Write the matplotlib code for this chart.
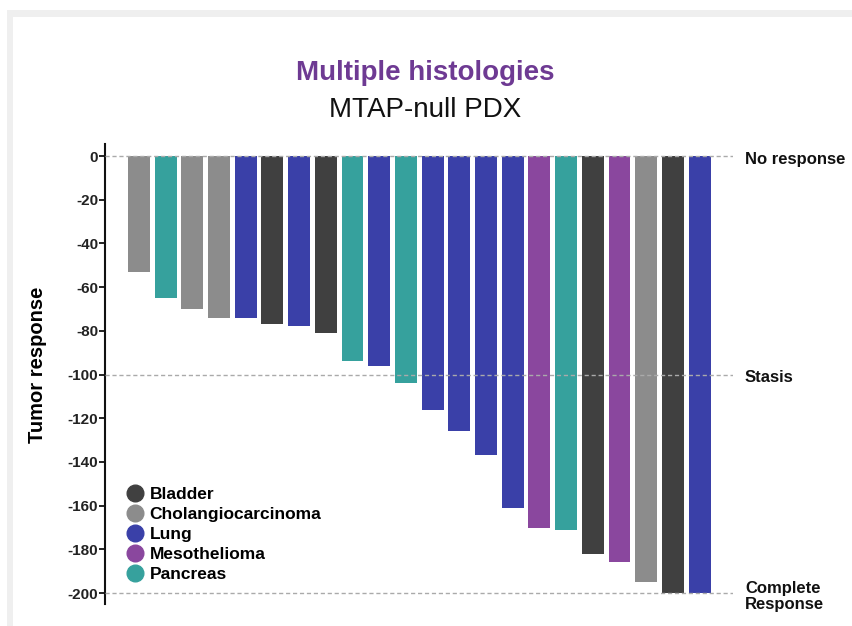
import matplotlib
matplotlib.use("Agg")
import matplotlib.pyplot as plt
from matplotlib.lines import Line2D
from matplotlib.patches import Rectangle
import matplotlib.transforms as mtransforms

plt.rcParams['font.family'] = ['Liberation Sans', 'DejaVu Sans']

# tumor response per PDX model, left to right
histology = ['Cholangiocarcinoma', 'Pancreas', 'Cholangiocarcinoma', 'Cholangiocarcinoma',
             'Lung', 'Bladder', 'Lung', 'Bladder', 'Pancreas', 'Lung', 'Pancreas',
             'Lung', 'Lung', 'Lung', 'Lung', 'Mesothelioma', 'Pancreas', 'Bladder',
             'Mesothelioma', 'Cholangiocarcinoma', 'Bladder', 'Lung']
response = [-53, -65, -70, -74, -74, -77, -78, -81, -94, -96, -104,
            -116, -126, -137, -161, -170, -171, -182, -186, -195, -200, -200]

legend_names = ['Bladder', 'Cholangiocarcinoma', 'Lung', 'Mesothelioma', 'Pancreas']
colors = {'Bladder': '#404040', 'Cholangiocarcinoma': '#8c8c8c', 'Lung': '#3a40a8',
          'Mesothelioma': '#8a479e', 'Pancreas': '#36a19d'}

ref_levels = [0, -100, -200]
ref_labels = ['No response', 'Stasis', 'Complete\nResponse']
yticks = list(range(0, -201, -20))

W, H = 852, 626
fig = plt.figure(figsize=(W / 100, H / 100), dpi=100)

# light frame around the card
fig.patches.append(Rectangle((7 / W, 0), 1, (H - 10) / H, transform=fig.transFigure,
                             facecolor='#efefef', edgecolor='none', zorder=-2))
fig.patches.append(Rectangle((13 / W, 0), 1, (H - 17) / H, transform=fig.transFigure,
                             facecolor='white', edgecolor='none', zorder=-1))

ax = fig.add_axes([105 / W, (H - 604) / H, (733 - 105) / W, (604 - 144) / H])
ax.patch.set_alpha(0)

x = list(range(len(response)))
ax.bar(x, response, width=0.82, color=[colors[h] for h in histology], zorder=2)

for lv in ref_levels:
    ax.axhline(lv, color='#aaaaaa', lw=1.0, ls=(0, (3, 2)), zorder=3)

trans = mtransforms.blended_transform_factory(ax.transAxes, ax.transData)
for lv, lab in zip(ref_levels, ref_labels):
    ax.text(1.019, lv - 1.5, lab, transform=trans, ha='left', va='center',
            fontsize=12, fontweight='bold', color='#111111', linespacing=1.1)

ax.set_xlim(-1.27, 22.25)
ax.set_ylim(-205, 5.5)
ax.set_yticks(yticks)
ax.set_yticklabels([str(t) for t in yticks], fontsize=11, fontweight='bold', color='#222222')
ax.set_xticks([])
for s in ['top', 'right', 'bottom']:
    ax.spines[s].set_visible(False)
ax.spines['left'].set_linewidth(1.5)
ax.spines['left'].set_color('#111111')
ax.tick_params(axis='y', length=4, width=1.3, pad=1, color='#111111')

ax.set_ylabel('Tumor response', fontsize=14.5, fontweight='bold')
ax.yaxis.set_label_coords(-0.092, 0.52)

fig.text(425 / W, 1 - 73 / H, 'Multiple histologies', ha='center', va='center',
         fontsize=20, fontweight='bold', color='#6e3a93')
fig.text(425 / W, 1 - 110 / H, 'MTAP-null PDX', ha='center', va='center',
         fontsize=20, color='#111111')

handles = [Line2D([], [], marker='o', linestyle='', markersize=12, color=colors[n])
           for n in legend_names]
ax.legend(handles, legend_names, loc='upper left', bbox_to_anchor=(126 / W, 1 - 487 / H),
          bbox_transform=fig.transFigure, frameon=False, borderpad=0, borderaxespad=0,
          handlelength=1.0, handletextpad=0.35, labelspacing=0.28,
          prop={'size': 12.5, 'weight': 'bold'})

fig.savefig('out.png', dpi=100)
